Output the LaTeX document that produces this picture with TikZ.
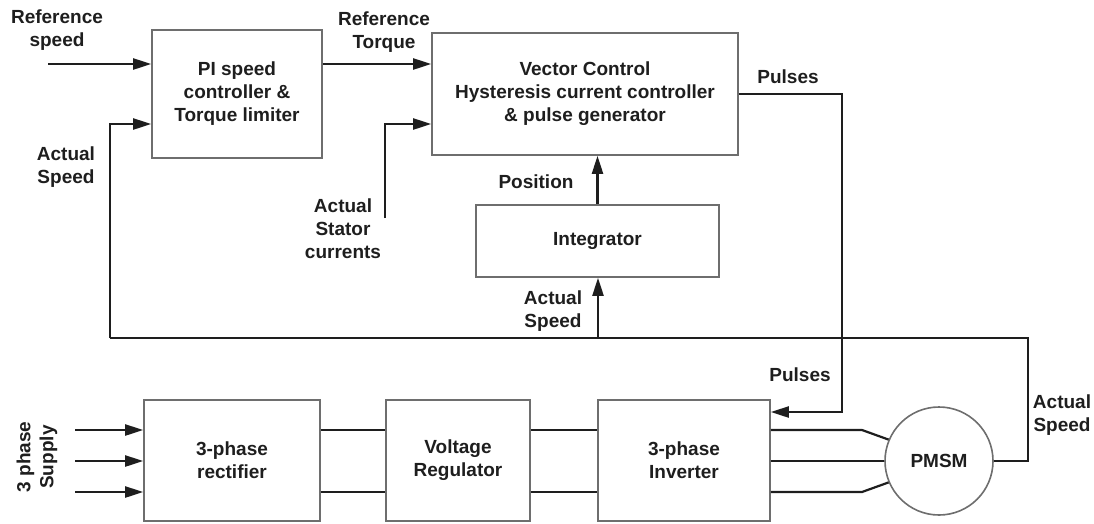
\documentclass[tikz,border=0pt]{standalone}
\usepackage{fontspec}
\setmainfont{Liberation Sans}
\usetikzlibrary{arrows.meta,calc}
\definecolor{boxgray}{HTML}{6E6E6E}
\definecolor{ink}{HTML}{1E1E1E}
\tikzset{
  blk/.style={draw=boxgray,line width=1.6pt,fill=white,align=center,inner sep=0pt,text=ink},
  lbl/.style={align=center,inner sep=0pt,text=ink},
  wire/.style={draw=ink,line width=2.2pt},
  arr/.style={wire,-{Triangle[length=18pt,width=11pt]}},
}
\begin{document}
\begin{tikzpicture}[x=1pt,y=-1pt,font=\fontsize{19}{23}\selectfont\bfseries]
\useasboundingbox (0,0) rectangle (1094,523);
% blocks
\node[blk,minimum width=170pt,minimum height=128pt] (PI) at (237,94) {PI speed\\controller \&\\Torque limiter};
\node[blk,minimum width=306pt,minimum height=122pt] (VC) at (585,94) {Vector Control\\Hysteresis current controller\\\& pulse generator};
\node[blk,minimum width=243pt,minimum height=72pt] (INT) at (597.5,241) {Integrator};
\node[blk,minimum width=176pt,minimum height=121pt] (REC) at (232,460.5) {3-phase\\rectifier};
\node[blk,minimum width=144pt,minimum height=121pt] (VR) at (458,460.5) {Voltage\\Regulator};
\node[blk,minimum width=172pt,minimum height=121pt] (INV) at (684,460.5) {3-phase\\Inverter};
\node[blk,circle,minimum size=108pt] (PM) at (939,461) {PMSM};
% labels
\node[lbl] (lrs) at (57,30) {Reference\\speed};
\node[lbl] (lrt) at (384,32) {Reference\\Torque};
\node[lbl] (las1) at (66,167) {Actual\\Speed};
\node[lbl] (lst) at (343,229) {Actual\\Stator\\currents};
\node[lbl] (lp1) at (788,77) {Pulses};
\node[lbl] (lpos) at (536,182) {Position};
\node[lbl] (las2) at (553,311) {Actual\\Speed};
\node[lbl] (lp2) at (800,375) {Pulses};
\node[lbl] (las3) at (1062,415) {Actual\\Speed};
\node[lbl,rotate=90] (lsup) at (37,457) {3 phase\\Supply};
% coordinates
\coordinate (rs) at (48,64);
\coordinate (fbL) at (110,338);
\coordinate (fbM) at (598,338);
\coordinate (fbR) at (1028,338);
\coordinate (stc) at (385,218);
\coordinate (pR) at (842,94);
\coordinate (s1) at (75,430);
\coordinate (s2) at (75,461);
\coordinate (s3) at (75,492);
\coordinate (k1) at (862,430);
\coordinate (k3) at (862,492);
% connectors
\draw[arr] (rs) -- (PI.west |- rs);
\draw[arr] (PI.east |- rs) -- (VC.west |- rs);
\draw[arr] (stc) |- (VC.west |- 0,124);
\draw[arr] (INT.north) -- (INT.north |- VC.south);
\draw[arr] (VC.east) -- (pR) |- (INV.east |- 0,412);
\draw[wire] (PM.east) -| (fbR) -- (fbL);
\draw[arr] (fbL) |- (PI.west |- 0,124);
\draw[arr] (fbM) -- (fbM |- INT.south);
\draw[arr] (s1) -- (REC.west |- s1);
\draw[arr] (s2) -- (REC.west |- s2);
\draw[arr] (s3) -- (REC.west |- s3);
\draw[wire] (REC.east |- s1) -- (VR.west |- s1);
\draw[wire] (REC.east |- s3) -- (VR.west |- s3);
\draw[wire] (VR.east |- s1) -- (INV.west |- s1);
\draw[wire] (VR.east |- s3) -- (INV.west |- s3);
\draw[wire] (INV.east |- k1) -- (k1) -- (PM.157);
\draw[wire] (INV.east |- PM.west) -- (PM.west);
\draw[wire] (INV.east |- k3) -- (k3) -- (PM.203);
\end{tikzpicture}
\end{document}
